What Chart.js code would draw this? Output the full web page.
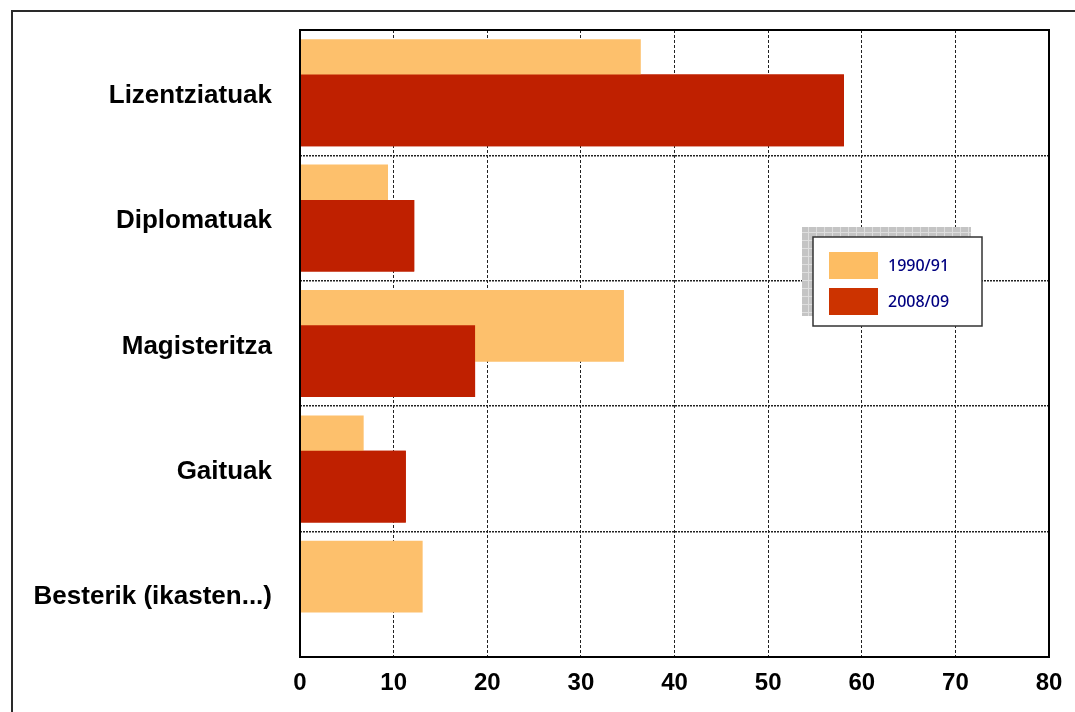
<!DOCTYPE html>
<html>
<head>
<meta charset="utf-8">
<script src="https://cdn.jsdelivr.net/npm/chart.js@4.4.0/dist/chart.umd.min.js"></script>
<style>
    body { margin: 0; background: #fff; overflow: hidden; }
    #wrap { position: relative; width: 1075px; height: 712px; }
    #frame { position: absolute; left: 11px; top: 10px; width: 1100px; height: 760px; border: 2px solid #2a2a2a; }
    #chart { position: absolute; left: 0; top: 0; }
</style>
</head>
<body>
<div id="wrap">
    <div id="frame"></div>
    <canvas id="chart" width="1075" height="712"></canvas>
</div>
<script>
// categories and series
const categories = ["Lizentziatuak", "Diplomatuak", "Magisteritza", "Gaituak", "Besterik (ikasten...)"];
const seriesNames = ["1990/91", "2008/09"];
const values1990 = [36.4, 9.4, 34.6, 6.8, 13.1];
const values2008 = [58.1, 12.2, 18.7, 11.3, 0];
const xTicks = [0, 10, 20, 30, 40, 50, 60, 70, 80];

const barColors = ["#FDC06C", "#BF2000"];
const legendColors = ["#FDBD63", "#CC3300"];

// checkered gray pattern for the legend shadow
function shadowPattern(ctx) {
    let c = document.createElement("canvas");
    c.width = 8; c.height = 8;
    let p = c.getContext("2d");
    p.fillStyle = "#c4c4c4";
    p.fillRect(0, 0, 8, 8);
    p.fillStyle = "#dedede";
    p.fillRect(0, 0, 8, 1);
    p.fillRect(0, 0, 1, 8);
    return ctx.createPattern(c, "repeat");
}

// red bars sit on top of the orange ones (overlapped bars)
const redOnTop = {
    id: "redOnTop",
    afterDatasetsDraw(chart) {
        let meta = chart.getDatasetMeta(1);
        let ctx = chart.ctx;
        ctx.save();
        meta.controller.draw();
        ctx.restore();
    }
};

// plot frame + boxed legend with shadow
const frameAndLegend = {
    id: "frameAndLegend",
    afterDraw(chart) {
        let ctx = chart.ctx;
        let a = chart.chartArea;
        ctx.save();
        ctx.strokeStyle = "#000";
        ctx.lineWidth = 2;
        ctx.strokeRect(a.left, a.top, a.right - a.left, a.bottom - a.top);

        let bx = a.left + 513, by = a.top + 207, bw = 169, bh = 89;
        ctx.fillStyle = shadowPattern(ctx);
        ctx.fillRect(bx - 11, by - 10, bw, bh);
        ctx.fillStyle = "#fff";
        ctx.fillRect(bx, by, bw, bh);
        ctx.strokeStyle = "#333";
        ctx.lineWidth = 1.5;
        ctx.strokeRect(bx, by, bw, bh);

        ctx.font = "500 16px 'Noto Sans', Lato, sans-serif";
        ctx.textBaseline = "middle";
        ctx.textAlign = "left";
        seriesNames.forEach((name, i) => {
            let sy = by + 15 + i * 36;
            ctx.fillStyle = legendColors[i];
            ctx.fillRect(bx + 16, sy, 49, 27);
            ctx.fillStyle = "#000080";
            ctx.fillText(name, bx + 75, sy + 14);
        });
        ctx.restore();
    }
};

const axisFont = { family: "'Liberation Sans', Arial, sans-serif", weight: "bold", size: 24 };

new Chart(document.getElementById("chart"), {
    type: "bar",
    data: {
        labels: categories,
        datasets: [
            { label: seriesNames[0], data: values1990, backgroundColor: barColors[0] },
            { label: seriesNames[1], data: values2008, backgroundColor: barColors[1] }
        ]
    },
    options: {
        indexAxis: "y",
        responsive: false,
        animation: false,
        categoryPercentage: 0.563,
        barPercentage: 2.03,
        layout: { padding: { top: 30, right: 26, left: 0, bottom: 0 } },
        plugins: {
            legend: { display: false },
            tooltip: { enabled: false }
        },
        scales: {
            x: {
                min: 0,
                max: 80,
                afterBuildTicks: scale => { scale.ticks = xTicks.map(v => ({ value: v })); },
                afterFit: scale => { scale.height = 55; scale.paddingTop = 0; },
                grid: { color: "#222", lineWidth: 1, drawTicks: false },
                border: { display: false, dash: [3, 2] },
                ticks: { color: "#000", font: axisFont, padding: 12 }
            },
            y: {
                afterFit: scale => { scale.width = 300; scale.paddingTop = 0; scale.paddingBottom = 0; },
                grid: { color: "#222", lineWidth: 1.5, drawTicks: false, offset: true },
                border: { display: false, dash: [2, 1] },
                ticks: {
                    color: "#000",
                    font: { family: "'Liberation Sans', Arial, sans-serif", weight: "bold", size: 26 },
                    padding: 28,
                    labelOffset: 3
                }
            }
        }
    },
    plugins: [redOnTop, frameAndLegend]
});
</script>
</body>
</html>
